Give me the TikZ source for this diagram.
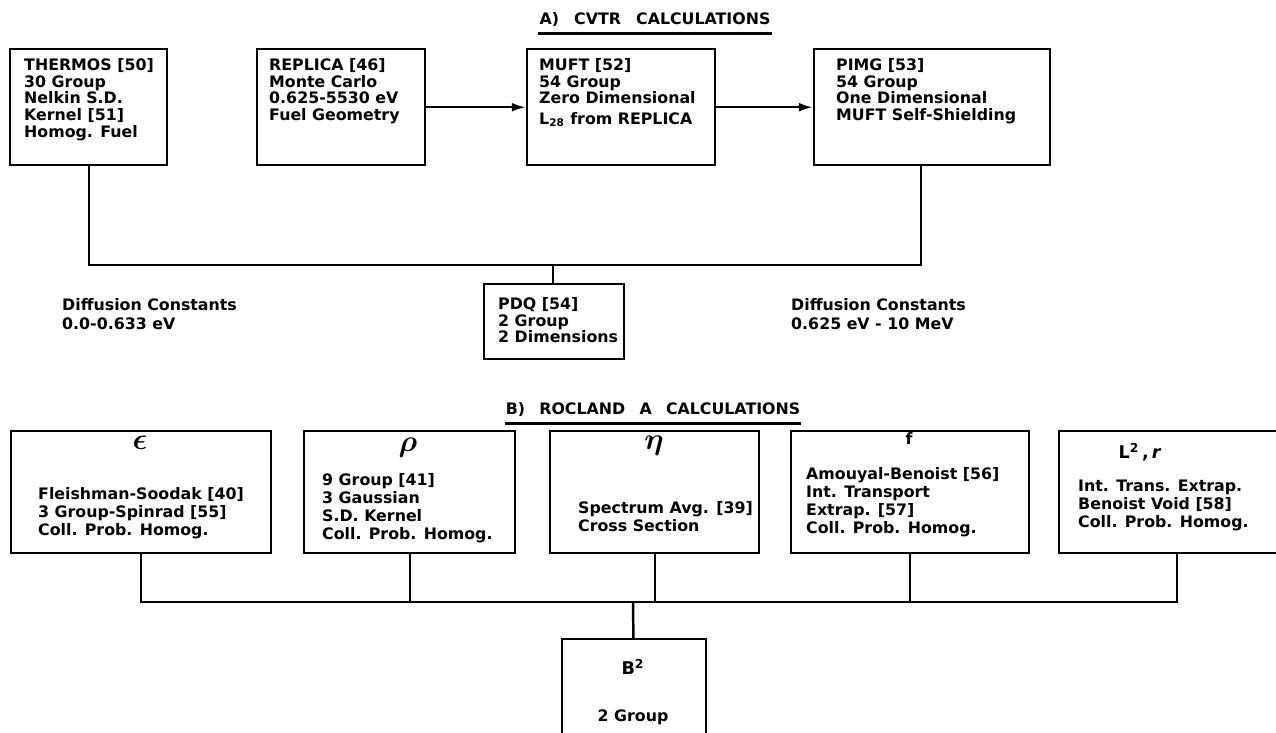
\documentclass[tikz,border=0pt]{standalone}
\usepackage{fontspec}
\setmainfont{DejaVu Sans}
\usepackage{amsmath,amssymb}
\usepackage{bm}
\usepackage{tikz}
\usetikzlibrary{arrows.meta}

\begin{document}
\begin{tikzpicture}[x=0.02cm,y=-0.02cm,line width=1.4pt,>={Latex[length=8pt,width=5pt]},
    font=\fontsize{9}{9.6}\selectfont\bfseries]
      \tikzstyle{calc box}=[draw,rectangle,anchor=north west,inner sep=0pt]
      \tikzstyle{box text}=[anchor=north west,align=left,inner sep=0pt]
      \tikzstyle{row text}=[anchor=north,align=left,inner sep=0pt,font=\fontsize{9}{10.2}\selectfont\bfseries]
      \tikzstyle{head}=[inner sep=0pt,font=\fontsize{16}{16}\selectfont]
      \useasboundingbox (0,0) rectangle (1276,733);

      % A) CVTR calculations
      \node[inner sep=0pt] (title-A) at (655,20) {A)\hspace{5.5pt} CVTR\hspace{5.5pt} CALCULATIONS};
      \draw ([yshift=-3pt]title-A.south west) -- ([yshift=-3pt]title-A.south east);

      \node[calc box,minimum width=157*0.02cm,minimum height=116*0.02cm] (thermos) at (9,48) {};
      \node[calc box,minimum width=168*0.02cm,minimum height=116*0.02cm] (replica) at (256,48) {};
      \node[calc box,minimum width=188*0.02cm,minimum height=116*0.02cm] (muft) at (526,48) {};
      \node[calc box,minimum width=236*0.02cm,minimum height=116*0.02cm] (pimg) at (813,48) {};
      \node[calc box,minimum width=140*0.02cm,minimum height=75*0.02cm] (pdq) at (483,283) {};

      \node[box text] (thermos-t) at (23,57) {THERMOS [50]\\30 Group\\Nelkin S.D.\\Kernel [51]\\Homog. Fuel};
      \node[box text] (replica-t) at (268,57) {REPLICA [46]\\Monte Carlo\\0.625-5530 eV\\Fuel Geometry};
      \node[box text] (muft-t) at (538,57) {MUFT [52]\\54 Group\\Zero Dimensional\\[2pt]L\textsubscript{28} from REPLICA};
      \node[box text] (pimg-t) at (835,57) {PIMG [53]\\54 Group\\One Dimensional\\MUFT Self-Shielding};
      \node[box text] (pdq-t) at (497,296) {PDQ [54]\\2 Group\\2 Dimensions};

      \node[box text,font=\fontsize{9}{10.8}\selectfont\bfseries] (diff-low) at (61,297) {Diffusion Constants\\0.0-0.633 eV};
      \node[box text,font=\fontsize{9}{10.8}\selectfont\bfseries] (diff-high) at (790,297) {Diffusion Constants\\0.625 eV - 10 MeV};

      % Connections A
      \draw[->] (replica) -- (muft);
      \draw[->] (muft) -- (pimg);
      \coordinate (bus-A) at (553,265);
      \draw (thermos.south) |- (bus-A) -| ([xshift=-11*0.02cm]pimg.south);
      \draw (bus-A) -- (bus-A |- pdq.north);

      % B) ROCLAND A calculations
      \node[inner sep=0pt] (title-B) at (653,410) {B)\hspace{5pt} ROCLAND\hspace{5pt} A\hspace{5pt} CALCULATIONS};
      \draw ([yshift=-3pt]title-B.south west) -- ([yshift=-3pt]title-B.south east);

      \node[calc box,minimum width=260*0.02cm,minimum height=122*0.02cm] (eps) at (10,430) {};
      \node[calc box,minimum width=211*0.02cm,minimum height=122*0.02cm] (rho) at (303,430) {};
      \node[calc box,minimum width=209*0.02cm,minimum height=122*0.02cm] (eta) at (549,430) {};
      \node[calc box,minimum width=238*0.02cm,minimum height=122*0.02cm] (ff) at (790,430) {};
      \node[calc box,minimum width=236*0.02cm,minimum height=122*0.02cm] (L2) at (1058,430) {};
      \node[calc box,minimum width=144*0.02cm,minimum height=130*0.02cm] (B2) at (561,638) {};

      \node[head] (eps-h) at (140,443) {$\bm{\epsilon}$};
      \node[head] (rho-h) at (408,448) {$\bm{\rho}$};
      \node[head] (eta-h) at (654,446) {$\bm{\eta}$};
      \node[inner sep=0pt] (ff-h) at (909,438) {f};
      \node[inner sep=0pt,font=\fontsize{10}{10}\selectfont\bfseries] (L2-h) at (1140,452) {L\textsuperscript{2}\,,\,\textit{r}};
      \node[inner sep=0pt,font=\fontsize{10}{10}\selectfont\bfseries] (B2-h) at (633,667) {B\textsuperscript{2}};

      \node[row text] (eps-t) at (141,486) {Fleishman-Soodak [40]\\3 Group-Spinrad [55]\\Coll. Prob. Homog.};
      \node[box text,font=\fontsize{9}{10.2}\selectfont\bfseries] (rho-t) at (321,472) {9 Group [41]\\3 Gaussian\\S.D. Kernel\\Coll. Prob. Homog.};
      \node[box text,font=\fontsize{9}{10.2}\selectfont\bfseries] (eta-t) at (577,500) {Spectrum Avg. [39]\\Cross Section};
      \node[box text,font=\fontsize{9}{10.2}\selectfont\bfseries] (ff-t) at (805,466) {Amouyal-Benoist [56]\\Int. Transport\\Extrap. [57]\\Coll. Prob. Homog.};
      \node[box text,font=\fontsize{9}{10.2}\selectfont\bfseries] (L2-t) at (1077,479) {Int. Trans. Extrap.\\Benoist Void [58]\\Coll. Prob. Homog.};
      \node[inner sep=0pt] (B2-t) at (633,717) {2 Group};

      % Connections B
      \coordinate (bus-B) at (633,602);
      \draw (eps.south) |- (bus-B) -| (L2.south);
      \foreach \n in {rho,eta,ff}
        \draw (\n.south) -- (\n.south |- bus-B);
      \draw (bus-B) -- (B2);
\end{tikzpicture}
\end{document}
